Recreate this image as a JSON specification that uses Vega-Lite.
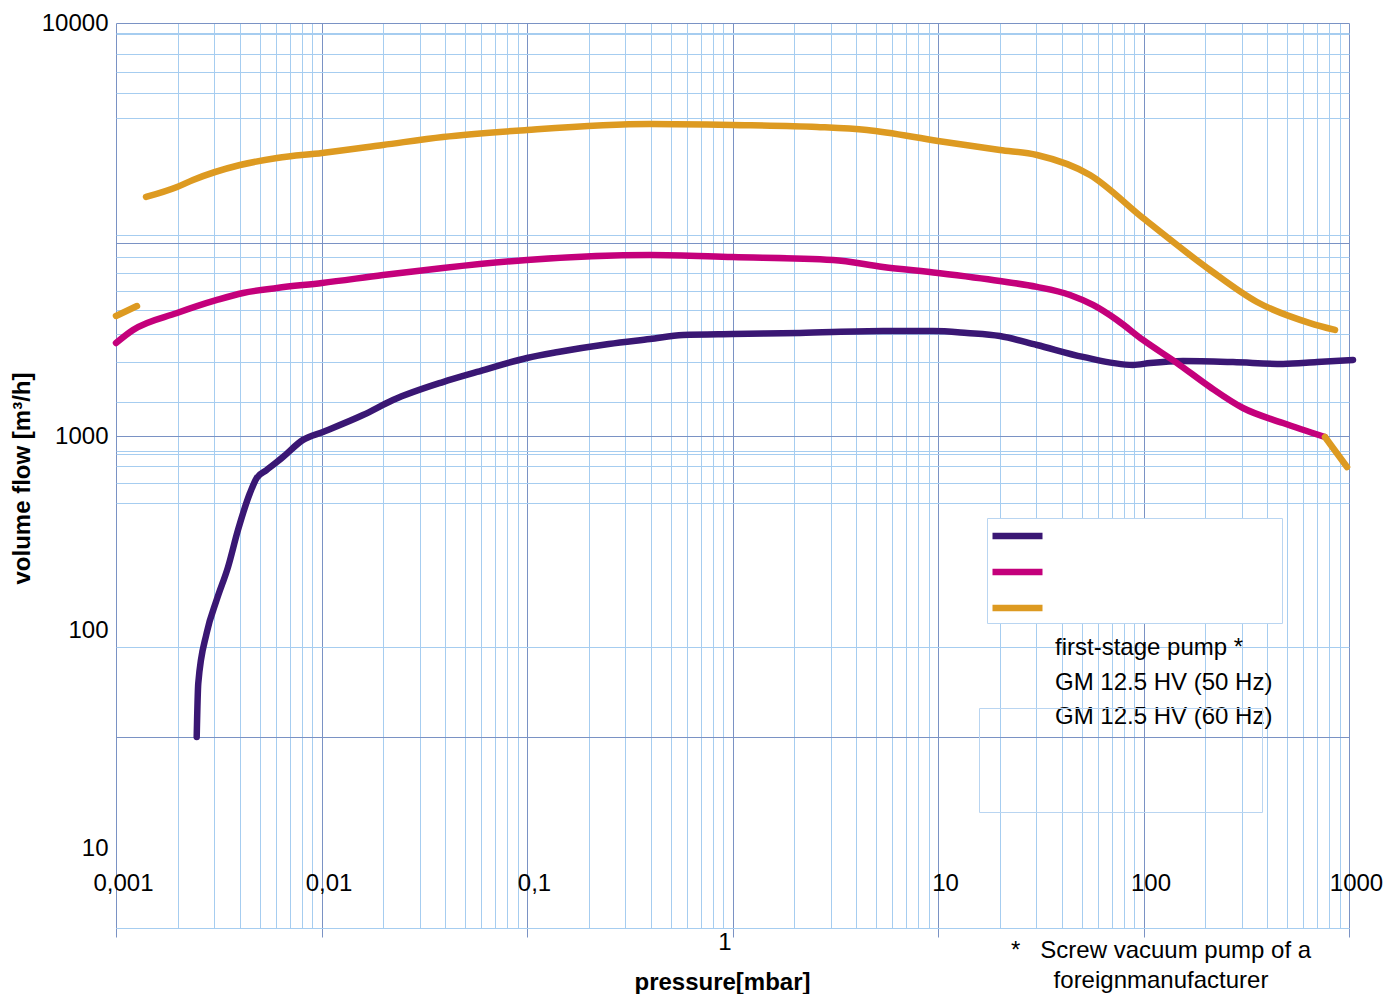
{
  "$schema": "https://vega.github.io/schema/vega-lite/v6.json",
  "width": 1233,
  "height": 905,
  "autosize": {"type": "none"},
  "padding": {"left": 116, "top": 23, "right": 48, "bottom": 66},
  "background": "white",
  "config": {"view": {"stroke": null}, "font": "Liberation Sans"},
  "title": {
    "text": ["*\u00a0\u00a0\u00a0Screw vacuum pump of a", "foreignmanufacturer"],
    "orient": "top",
    "anchor": "end",
    "frame": "group",
    "align": "center",
    "baseline": "top",
    "dx": -188,
    "dy": 982,
    "offset": 0,
    "fontSize": 24,
    "fontWeight": "normal",
    "color": "black",
    "font": "Liberation Sans",
    "lineHeight": 30
  },
  "layer": [
    {
      "data": {
        "values": [
          {"p": 0.00247, "q": 32.3, "pump": "first-stage pump *", "seg": "a"},
          {"p": 0.002514, "q": 57, "pump": "first-stage pump *", "seg": "a"},
          {"p": 0.002763, "q": 97, "pump": "first-stage pump *", "seg": "a"},
          {"p": 0.00309, "q": 143, "pump": "first-stage pump *", "seg": "a"},
          {"p": 0.003508, "q": 211, "pump": "first-stage pump *", "seg": "a"},
          {"p": 0.003924, "q": 328, "pump": "first-stage pump *", "seg": "a"},
          {"p": 0.004487, "q": 508, "pump": "first-stage pump *", "seg": "a"},
          {"p": 0.004839, "q": 608, "pump": "first-stage pump *", "seg": "a"},
          {"p": 0.005412, "q": 668, "pump": "first-stage pump *", "seg": "a"},
          {"p": 0.006496, "q": 780, "pump": "first-stage pump *", "seg": "a"},
          {"p": 0.008128, "q": 955, "pump": "first-stage pump *", "seg": "a"},
          {"p": 0.01017, "q": 1023, "pump": "first-stage pump *", "seg": "a"},
          {"p": 0.01592, "q": 1124, "pump": "first-stage pump *", "seg": "a"},
          {"p": 0.02228, "q": 1222, "pump": "first-stage pump *", "seg": "a"},
          {"p": 0.039, "q": 1351, "pump": "first-stage pump *", "seg": "a"},
          {"p": 0.05711, "q": 1429, "pump": "first-stage pump *", "seg": "a"},
          {"p": 0.1, "q": 1545, "pump": "first-stage pump *", "seg": "a"},
          {"p": 0.1416, "q": 1597, "pump": "first-stage pump *", "seg": "a"},
          {"p": 0.25, "q": 1670, "pump": "first-stage pump *", "seg": "a"},
          {"p": 0.3967, "q": 1717, "pump": "first-stage pump *", "seg": "a"},
          {"p": 0.5741, "q": 1756, "pump": "first-stage pump *", "seg": "a"},
          {"p": 1, "q": 1766, "pump": "first-stage pump *", "seg": "a"},
          {"p": 2.131, "q": 1776, "pump": "first-stage pump *", "seg": "a"},
          {"p": 5.4, "q": 1796, "pump": "first-stage pump *", "seg": "a"},
          {"p": 9.46, "q": 1796, "pump": "first-stage pump *", "seg": "a"},
          {"p": 13.84, "q": 1776, "pump": "first-stage pump *", "seg": "a"},
          {"p": 20, "q": 1746, "pump": "first-stage pump *", "seg": "a"},
          {"p": 30.3, "q": 1661, "pump": "first-stage pump *", "seg": "a"},
          {"p": 50.8, "q": 1554, "pump": "first-stage pump *", "seg": "a"},
          {"p": 88.9, "q": 1486, "pump": "first-stage pump *", "seg": "a"},
          {"p": 107.6, "q": 1502, "pump": "first-stage pump *", "seg": "a"},
          {"p": 155.6, "q": 1519, "pump": "first-stage pump *", "seg": "a"},
          {"p": 272.6, "q": 1510, "pump": "first-stage pump *", "seg": "a"},
          {"p": 477.5, "q": 1494, "pump": "first-stage pump *", "seg": "a"},
          {"p": 698.9, "q": 1510, "pump": "first-stage pump *", "seg": "a"},
          {"p": 1046, "q": 1528, "pump": "first-stage pump *", "seg": "a"},

          {"p": 0.001, "q": 1680, "pump": "GM 12.5 HV (50 Hz)", "seg": "b"},
          {"p": 0.00121, "q": 1806, "pump": "GM 12.5 HV (50 Hz)", "seg": "b"},
          {"p": 0.001981, "q": 1985, "pump": "GM 12.5 HV (50 Hz)", "seg": "b"},
          {"p": 0.0031, "q": 2135, "pump": "GM 12.5 HV (50 Hz)", "seg": "b"},
          {"p": 0.00415, "q": 2220, "pump": "GM 12.5 HV (50 Hz)", "seg": "b"},
          {"p": 0.006074, "q": 2283, "pump": "GM 12.5 HV (50 Hz)", "seg": "b"},
          {"p": 0.01006, "q": 2347, "pump": "GM 12.5 HV (50 Hz)", "seg": "b"},
          {"p": 0.01992, "q": 2453, "pump": "GM 12.5 HV (50 Hz)", "seg": "b"},
          {"p": 0.03901, "q": 2552, "pump": "GM 12.5 HV (50 Hz)", "seg": "b"},
          {"p": 0.1, "q": 2669, "pump": "GM 12.5 HV (50 Hz)", "seg": "b"},
          {"p": 0.3967, "q": 2744, "pump": "GM 12.5 HV (50 Hz)", "seg": "b"},
          {"p": 1, "q": 2713, "pump": "GM 12.5 HV (50 Hz)", "seg": "b"},
          {"p": 3.083, "q": 2669, "pump": "GM 12.5 HV (50 Hz)", "seg": "b"},
          {"p": 5.4, "q": 2566, "pump": "GM 12.5 HV (50 Hz)", "seg": "b"},
          {"p": 10, "q": 2481, "pump": "GM 12.5 HV (50 Hz)", "seg": "b"},
          {"p": 20, "q": 2373, "pump": "GM 12.5 HV (50 Hz)", "seg": "b"},
          {"p": 30.3, "q": 2296, "pump": "GM 12.5 HV (50 Hz)", "seg": "b"},
          {"p": 43.88, "q": 2195, "pump": "GM 12.5 HV (50 Hz)", "seg": "b"},
          {"p": 56.8, "q": 2076, "pump": "GM 12.5 HV (50 Hz)", "seg": "b"},
          {"p": 74.3, "q": 1909, "pump": "GM 12.5 HV (50 Hz)", "seg": "b"},
          {"p": 99.4, "q": 1708, "pump": "GM 12.5 HV (50 Hz)", "seg": "b"},
          {"p": 145.6, "q": 1502, "pump": "GM 12.5 HV (50 Hz)", "seg": "b"},
          {"p": 210.7, "q": 1314, "pump": "GM 12.5 HV (50 Hz)", "seg": "b"},
          {"p": 304.8, "q": 1169, "pump": "GM 12.5 HV (50 Hz)", "seg": "b"},
          {"p": 477.4, "q": 1075, "pump": "GM 12.5 HV (50 Hz)", "seg": "b"},
          {"p": 764, "q": 988, "pump": "GM 12.5 HV (50 Hz)", "seg": "b"},

          {"p": 0.001, "q": 1953, "pump": "GM 12.5 HV (60 Hz)", "seg": "c1"},
          {"p": 0.001265, "q": 2064, "pump": "GM 12.5 HV (60 Hz)", "seg": "c1"},
          {"p": 0.0014, "q": 3791, "pump": "GM 12.5 HV (60 Hz)", "seg": "c2"},
          {"p": 0.001981, "q": 4008, "pump": "GM 12.5 HV (60 Hz)", "seg": "c2"},
          {"p": 0.00237, "q": 4168, "pump": "GM 12.5 HV (60 Hz)", "seg": "c2"},
          {"p": 0.004013, "q": 4531, "pump": "GM 12.5 HV (60 Hz)", "seg": "c2"},
          {"p": 0.006074, "q": 4711, "pump": "GM 12.5 HV (60 Hz)", "seg": "c2"},
          {"p": 0.01006, "q": 4844, "pump": "GM 12.5 HV (60 Hz)", "seg": "c2"},
          {"p": 0.01992, "q": 5066, "pump": "GM 12.5 HV (60 Hz)", "seg": "c2"},
          {"p": 0.03901, "q": 5297, "pump": "GM 12.5 HV (60 Hz)", "seg": "c2"},
          {"p": 0.1, "q": 5507, "pump": "GM 12.5 HV (60 Hz)", "seg": "c2"},
          {"p": 0.3967, "q": 5692, "pump": "GM 12.5 HV (60 Hz)", "seg": "c2"},
          {"p": 1, "q": 5662, "pump": "GM 12.5 HV (60 Hz)", "seg": "c2"},
          {"p": 2.577, "q": 5600, "pump": "GM 12.5 HV (60 Hz)", "seg": "c2"},
          {"p": 4.512, "q": 5507, "pump": "GM 12.5 HV (60 Hz)", "seg": "c2"},
          {"p": 10, "q": 5180, "pump": "GM 12.5 HV (60 Hz)", "seg": "c2"},
          {"p": 20, "q": 4925, "pump": "GM 12.5 HV (60 Hz)", "seg": "c2"},
          {"p": 30.3, "q": 4790, "pump": "GM 12.5 HV (60 Hz)", "seg": "c2"},
          {"p": 54.9, "q": 4285, "pump": "GM 12.5 HV (60 Hz)", "seg": "c2"},
          {"p": 99.4, "q": 3371, "pump": "GM 12.5 HV (60 Hz)", "seg": "c2"},
          {"p": 210.7, "q": 2523, "pump": "GM 12.5 HV (60 Hz)", "seg": "c2"},
          {"p": 356.8, "q": 2111, "pump": "GM 12.5 HV (60 Hz)", "seg": "c2"},
          {"p": 645.9, "q": 1877, "pump": "GM 12.5 HV (60 Hz)", "seg": "c2"},
          {"p": 855, "q": 1806, "pump": "GM 12.5 HV (60 Hz)", "seg": "c2"},
          {"p": 764, "q": 988, "pump": "GM 12.5 HV (60 Hz)", "seg": "c3"},
          {"p": 978, "q": 692, "pump": "GM 12.5 HV (60 Hz)", "seg": "c3"}
        ]
      },
      "mark": {"type": "line", "strokeWidth": 6.5, "strokeCap": "round", "strokeJoin": "round", "interpolate": "monotone", "clip": false},
      "encoding": {
        "x": {
          "field": "p",
          "type": "quantitative",
          "scale": {"type": "log", "domain": [0.001, 1000], "nice": false},
          "axis": {
            "values": [0.001, 0.002, 0.003, 0.004, 0.005, 0.006, 0.007, 0.008, 0.009,
                       0.01, 0.02, 0.03, 0.04, 0.05, 0.06, 0.07, 0.08, 0.09,
                       0.1, 0.2, 0.3, 0.4, 0.5, 0.6, 0.7, 0.8, 0.9,
                       1, 2, 3, 4, 5, 6, 7, 8, 9,
                       10, 20, 30, 40, 50, 60, 70, 80, 90,
                       100, 200, 300, 400, 500, 600, 700, 800, 900, 1000],
            "title": "pressure[mbar]",
            "titleFontSize": 24,
            "titleFontWeight": "bold",
            "titleColor": "black",
            "titleX": 606,
            "titleY": 54,
            "titleBaseline": "middle",
            "titleAlign": "center",
            "labelExpr": "datum.value == 0.001 ? '0,001' : datum.value == 0.01 ? '0,01' : datum.value == 0.1 ? '0,1' : datum.value == 1 ? '1' : datum.value == 10 ? '10' : datum.value == 100 ? '100' : datum.value == 1000 ? '1000' : ''",
            "labelFontSize": 24,
            "labelColor": "black",
            "labelBaseline": "middle",
            "labelPadding": {"condition": {"test": "datum.value == 1", "value": 5}, "value": -54},
            "labelOffset": {"condition": {"test": "datum.value == 1", "value": -8}, "value": 7},
            "labelOverlap": false,
            "labelBound": false,
            "labelFlush": false,
            "tickSize": 9,
            "tickColor": "#7a92c4",
            "tickOpacity": {"condition": {"test": "indexof([0.001, 0.01, 0.1, 1, 10, 100, 1000], datum.value) >= 0", "value": 1}, "value": 0},
            "domainColor": "#a6cdf0",
            "grid": true,
            "gridWidth": 1,
            "gridColor": {"condition": {"test": "indexof([0.001, 0.01, 0.1, 1, 10, 100, 1000], datum.value) >= 0", "value": "#7a92c4"}, "value": "#a6cdf0"}
          }
        },
        "y": {
          "field": "q",
          "type": "quantitative",
          "scale": {"type": "log", "domain": [4.29, 10, 100, 1000, 10000], "range": [905, 825, 607, 413, 0], "nice": false},
          "axis": {
            "values": [10, 32.3, 83.6, 100, 451, 572, 700, 808, 837, 1000, 1209, 1510, 1766, 2018, 2244, 2481, 2713, 2934, 3067, 5888, 6768, 7609, 8413, 9405, 9458, 10000],
            "title": "volume flow [m³/h]",
            "titleFontSize": 24,
            "titleFontWeight": "bold",
            "titleColor": "black",
            "titleX": -94,
            "titleY": 455,
            "titleAngle": -90,
            "titleBaseline": "middle",
            "titleAlign": "center",
            "labelExpr": "datum.value == 10 ? '10' : datum.value == 100 ? '100' : datum.value == 1000 ? '1000' : datum.value == 10000 ? '10000' : ''",
            "labelFontSize": 24,
            "labelColor": "black",
            "labelPadding": 8,
            "labelOverlap": false,
            "labelBound": false,
            "labelFlush": false,
            "ticks": false,
            "domain": false,
            "grid": true,
            "gridWidth": 1,
            "gridColor": {"condition": {"test": "datum.value == 1000 || datum.value == 2934 || datum.value == 32.3 || datum.value == 10000", "value": "#7a92c4"}, "value": "#a6cdf0"},
            "gridOpacity": {"condition": {"test": "datum.value == 10 || datum.value == 100", "value": 0}, "value": 1}
          }
        },
        "color": {
          "field": "pump",
          "type": "nominal",
          "scale": {"domain": ["first-stage pump *", "GM 12.5 HV (50 Hz)", "GM 12.5 HV (60 Hz)"], "range": ["#3a1774", "#c4007b", "#dd9a21"]},
          "legend": {
            "orient": "none",
            "legendX": 871,
            "legendY": 495,
            "title": null,
            "symbolType": "M-2,0L2,0",
            "symbolSize": 625,
            "symbolOffset": 12.5,
            "symbolStrokeWidth": 6.5,
            "labelOpacity": 0,
            "labelFontSize": 24,
            "labelLimit": 400,
            "labelOffset": 29,
            "padding": 2,
            "rowPadding": 7,
            "strokeColor": "#b9d5f1",
            "fillColor": "white"
          }
        },
        "detail": {"field": "seg", "type": "nominal"}
      }
    },
    {
      "data": {
        "values": [
          {"label": "first-stage pump *", "box": "first-stage pump * "},
          {"label": "GM 12.5 HV (50 Hz)", "box": "GM 12.5 HV (50 Hz) "},
          {"label": "GM 12.5 HV (60 Hz)", "box": "GM 12.5 HV (60 Hz) "}
        ]
      },
      "mark": {"type": "point", "opacity": 0},
      "encoding": {
        "shape": {
          "field": "label",
          "type": "nominal",
          "sort": null,
          "legend": {
            "orient": "none",
            "legendX": 915,
            "legendY": 613,
            "title": null,
            "symbolOpacity": 0,
            "symbolSize": 1,
            "labelOffset": 0,
            "padding": 0,
            "rowPadding": 10.5,
            "labelFontSize": 24,
            "labelColor": "black",
            "labelLimit": 400
          }
        },
        "strokeDash": {
          "field": "box",
          "type": "nominal",
          "sort": null,
          "legend": {
            "orient": "none",
            "legendX": 863,
            "legendY": 685,
            "title": null,
            "symbolType": "M-2,0L2,0",
            "symbolSize": 625,
            "symbolOpacity": 0,
            "labelOpacity": 0,
            "labelFontSize": 24,
            "labelLimit": 400,
            "labelOffset": 32,
            "padding": 3,
            "rowPadding": 10,
            "strokeColor": "#b9d5f1",
            "fillColor": "transparent"
          }
        }
      }
    }
  ]
}
